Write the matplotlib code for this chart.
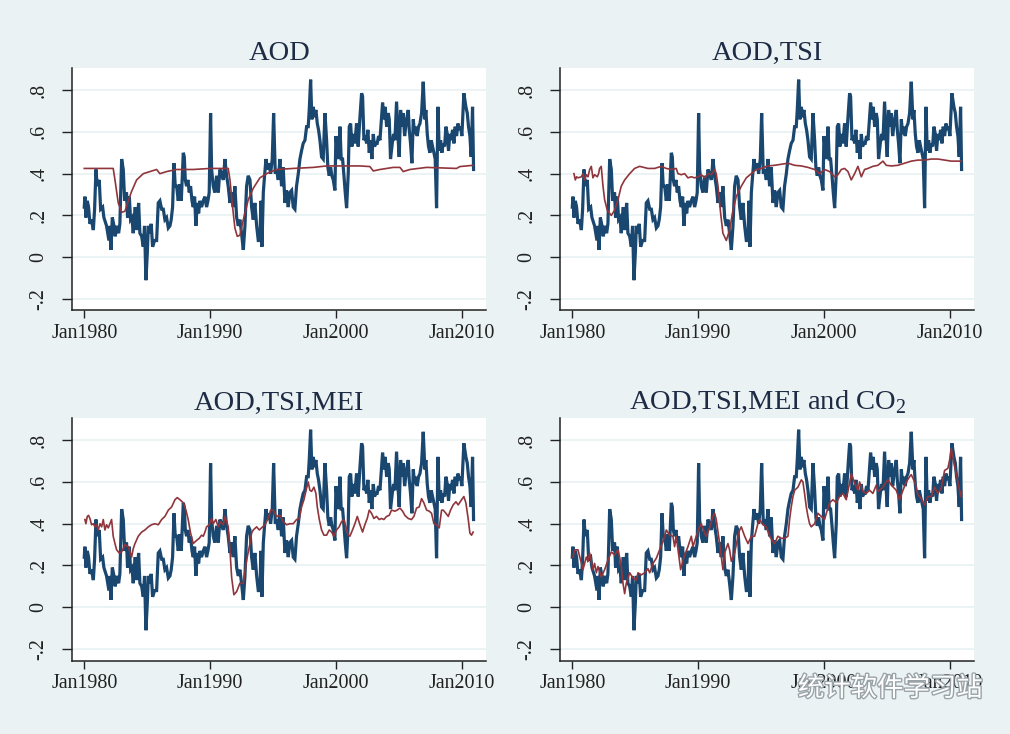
import matplotlib
matplotlib.use("Agg")
import matplotlib.pyplot as plt
import matplotlib.patheffects as pe

plt.rcParams["font.family"] = ["Liberation Serif", "DejaVu Serif"]
plt.rcParams["mathtext.fontset"] = "custom"
plt.rcParams["mathtext.rm"] = "Liberation Serif"

BG = "#eaf2f3"
NAVY = "#1a476f"
MAROON = "#90353b"

# observed AOD-related series (blue), same in all panels
obs_t = [1980.00, 1980.05, 1980.13, 1980.24, 1980.34, 1980.45, 1980.58, 1980.72, 1980.82, 1980.93,
         1981.03, 1981.19, 1981.30, 1981.46, 1981.56, 1981.77, 1981.96, 1982.04, 1982.12, 1982.23,
         1982.36, 1982.46, 1982.57, 1982.73, 1982.83, 1982.97, 1983.10, 1983.21, 1983.36, 1983.44,
         1983.58, 1983.68, 1983.79, 1983.89, 1984.05, 1984.16, 1984.32, 1984.42, 1984.56, 1984.69,
         1984.79, 1984.90, 1985.01, 1985.09, 1985.22, 1985.32, 1985.43, 1985.59, 1985.75, 1985.88,
         1986.01, 1986.15, 1986.28, 1986.41, 1986.54, 1986.68, 1986.81, 1986.91, 1987.02, 1987.13,
         1987.23, 1987.34, 1987.47, 1987.60, 1987.71, 1987.87, 1987.95, 1988.03, 1988.13, 1988.24,
         1988.34, 1988.45, 1988.56, 1988.66, 1988.77, 1988.87, 1988.98, 1989.09, 1989.19, 1989.32,
         1989.46, 1989.59, 1989.72, 1989.83, 1989.93, 1990.04, 1990.12, 1990.25, 1990.38, 1990.52,
         1990.65, 1990.78, 1990.91, 1991.05, 1991.18, 1991.31, 1991.44, 1991.58, 1991.71, 1991.84,
         1991.97, 1992.11, 1992.24, 1992.37, 1992.50, 1992.64, 1992.77, 1992.90, 1993.03, 1993.17,
         1993.30, 1993.43, 1993.56, 1993.70, 1993.83, 1993.96, 1994.04, 1994.12, 1994.23, 1994.33,
         1994.44, 1994.54, 1994.68, 1994.81, 1994.94, 1995.05, 1995.18, 1995.28, 1995.42, 1995.55,
         1995.68, 1995.81, 1995.95, 1996.08, 1996.21, 1996.34, 1996.48, 1996.61, 1996.74, 1996.87,
         1997.01, 1997.14, 1997.27, 1997.40, 1997.54, 1997.67, 1997.80, 1997.88, 1997.99, 1998.09,
         1998.20, 1998.30, 1998.41, 1998.52, 1998.62, 1998.73, 1998.86, 1998.99, 1999.13, 1999.26,
         1999.36, 1999.47, 1999.58, 1999.68, 1999.79, 1999.92, 2000.00, 2000.11, 2000.21, 2000.32,
         2000.42, 2000.53, 2000.64, 2000.74, 2000.85, 2000.98, 2001.06, 2001.17, 2001.27, 2001.38,
         2001.51, 2001.64, 2001.77, 2001.91, 2002.04, 2002.12, 2002.23, 2002.33, 2002.44, 2002.54,
         2002.65, 2002.75, 2002.86, 2002.97, 2003.07, 2003.18, 2003.28, 2003.39, 2003.50, 2003.63,
         2003.71, 2003.81, 2003.92, 2004.03, 2004.16, 2004.24, 2004.34, 2004.48, 2004.58, 2004.69,
         2004.82, 2004.95, 2005.03, 2005.14, 2005.25, 2005.35, 2005.46, 2005.62, 2005.75, 2005.83,
         2005.93, 2006.04, 2006.15, 2006.25, 2006.36, 2006.46, 2006.57, 2006.68, 2006.81, 2006.94,
         2007.07, 2007.15, 2007.26, 2007.36, 2007.47, 2007.58, 2007.68, 2007.79, 2007.89, 2008.00,
         2008.11, 2008.21, 2008.32, 2008.42, 2008.53, 2008.64, 2008.74, 2008.85, 2008.95, 2009.06,
         2009.17, 2009.27, 2009.38, 2009.48, 2009.59, 2009.70, 2009.80, 2009.91, 2010.01, 2010.17,
         2010.33, 2010.44, 2010.54, 2010.65, 2010.75, 2010.86, 2010.94]
obs_v = [0.24, 0.29, 0.19, 0.27, 0.24, 0.16, 0.18, 0.13, 0.23, 0.42,
         0.34, 0.37, 0.23, 0.24, 0.19, 0.15, 0.08, 0.15, 0.035, 0.19,
         0.15, 0.10, 0.15, 0.115, 0.16, 0.47, 0.42, 0.27, 0.31, 0.19,
         0.29, 0.18, 0.19, 0.115, 0.24, 0.13, 0.26, 0.115, 0.10, 0.05,
         0.15, -0.11, 0.02, 0.15, 0.115, 0.16, 0.05, 0.08, 0.08, 0.26,
         0.27, 0.23, 0.23, 0.18, 0.19, 0.14, 0.15, 0.18, 0.24, 0.45,
         0.34, 0.34, 0.27, 0.35, 0.27, 0.50, 0.48, 0.37, 0.34, 0.37,
         0.31, 0.34, 0.27, 0.24, 0.29, 0.15, 0.26, 0.21, 0.27, 0.24,
         0.27, 0.29, 0.24, 0.27, 0.31, 0.69, 0.42, 0.34, 0.31, 0.39,
         0.31, 0.42, 0.40, 0.37, 0.47, 0.39, 0.34, 0.26, 0.31, 0.24,
         0.34, 0.19, 0.15, 0.18, 0.115, 0.035, 0.15, 0.34, 0.39, 0.37,
         0.24, 0.18, 0.26, 0.15, 0.08, 0.08, 0.27, 0.05, 0.31, 0.39,
         0.47, 0.42, 0.45, 0.40, 0.47, 0.69, 0.40, 0.42, 0.37, 0.47,
         0.34, 0.43, 0.26, 0.32, 0.24, 0.31, 0.32, 0.24, 0.23, 0.34,
         0.40, 0.47, 0.51, 0.545, 0.56, 0.625, 0.625, 0.705, 0.85, 0.66,
         0.72, 0.67, 0.705, 0.64, 0.61, 0.56, 0.48, 0.47, 0.69, 0.56,
         0.43, 0.39, 0.43, 0.39, 0.37, 0.32, 0.58, 0.51, 0.47, 0.625,
         0.47, 0.47, 0.39, 0.31, 0.235, 0.40, 0.625, 0.64, 0.53, 0.59,
         0.545, 0.64, 0.53, 0.67, 0.785, 0.77, 0.56, 0.58, 0.545, 0.61,
         0.50, 0.56, 0.47, 0.59, 0.53, 0.545, 0.545, 0.58, 0.56, 0.67,
         0.74, 0.66, 0.72, 0.625, 0.69, 0.66, 0.47, 0.545, 0.59, 0.56,
         0.745, 0.56, 0.48, 0.705, 0.625, 0.69, 0.58, 0.66, 0.705, 0.61,
         0.545, 0.45, 0.66, 0.59, 0.625, 0.58, 0.625, 0.64, 0.69, 0.84,
         0.66, 0.705, 0.59, 0.53, 0.50, 0.56, 0.53, 0.50, 0.47, 0.235,
         0.72, 0.51, 0.56, 0.50, 0.545, 0.53, 0.625, 0.59, 0.51, 0.59,
         0.56, 0.61, 0.545, 0.625, 0.58, 0.64, 0.61, 0.625, 0.58, 0.785,
         0.72, 0.69, 0.625, 0.58, 0.48, 0.72, 0.42]

# fitted series (red), one per panel
fit1_t = [1980.00, 1982.30, 1982.44, 1982.70, 1982.97, 1983.23, 1983.50, 1983.76, 1984.16, 1984.69,
          1985.22, 1985.75, 1986.01, 1986.54, 1987.34, 1988.66, 1989.99, 1991.44, 1991.58, 1991.79,
          1991.97, 1992.16, 1992.37, 1992.64, 1993.03, 1993.43, 1993.96, 1994.49, 1995.28, 1996.61,
          1998.20, 1999.26, 2001.91, 2002.70, 2002.97, 2003.50, 2004.56, 2005.09, 2005.35, 2005.88,
          2007.21, 2009.59, 2009.85, 2010.91]
fit1_v = [0.425, 0.425, 0.37, 0.26, 0.215, 0.22, 0.27, 0.315, 0.37, 0.40,
          0.41, 0.42, 0.40, 0.41, 0.42, 0.42, 0.425, 0.425, 0.37, 0.24,
          0.14, 0.10, 0.105, 0.18, 0.275, 0.33, 0.38, 0.40, 0.42, 0.425,
          0.43, 0.437, 0.437, 0.434, 0.413, 0.42, 0.43, 0.43, 0.41, 0.42,
          0.43, 0.425, 0.434, 0.44]

fit2_t = [1980.13, 1980.24, 1980.34, 1980.45, 1980.72, 1980.85, 1980.98, 1981.11, 1981.25, 1981.38,
          1981.51, 1981.64, 1981.77, 1981.99, 1982.09, 1982.17, 1982.30, 1982.44, 1982.57, 1982.78,
          1983.10, 1983.36, 1983.63, 1983.89, 1984.16, 1984.56, 1984.95, 1985.35, 1986.01, 1986.54,
          1987.07, 1987.47, 1987.87, 1988.26, 1988.40, 1988.66, 1988.93, 1989.19, 1989.46, 1989.72,
          1989.99, 1990.25, 1990.52, 1990.78, 1991.05, 1991.31, 1991.44, 1991.58, 1991.79, 1991.97,
          1992.24, 1992.50, 1992.77, 1993.03, 1993.43, 1993.83, 1994.23, 1994.62, 1995.02, 1995.55,
          1996.08, 1997.14, 1997.67, 1998.20, 1998.73, 1999.26, 1999.66, 2000.05, 2000.45, 2000.85,
          2001.11, 2001.38, 2001.64, 2001.91, 2002.17, 2002.44, 2002.70, 2002.97, 2003.23, 2003.50,
          2003.89, 2004.29, 2004.69, 2004.95, 2005.35, 2005.88, 2006.41, 2006.94, 2007.47, 2008.00,
          2008.53, 2009.06, 2009.59, 2010.12, 2010.91]
fit2_v = [0.40, 0.37, 0.385, 0.38, 0.385, 0.40, 0.37, 0.395, 0.385, 0.42,
          0.435, 0.38, 0.395, 0.385, 0.40, 0.425, 0.435, 0.34, 0.275, 0.225,
          0.20, 0.225, 0.275, 0.34, 0.37, 0.40, 0.425, 0.435, 0.425, 0.425,
          0.435, 0.425, 0.42, 0.425, 0.40, 0.395, 0.40, 0.38, 0.385, 0.38,
          0.385, 0.395, 0.38, 0.40, 0.395, 0.42, 0.40, 0.34, 0.21, 0.115,
          0.08, 0.13, 0.225, 0.29, 0.34, 0.38, 0.40, 0.42, 0.425, 0.437,
          0.44, 0.45, 0.44, 0.437, 0.43, 0.42, 0.40, 0.42, 0.41, 0.385,
          0.395, 0.42, 0.425, 0.41, 0.37, 0.40, 0.435, 0.385, 0.42, 0.425,
          0.435, 0.44, 0.46, 0.44, 0.437, 0.44, 0.45, 0.46, 0.465, 0.465,
          0.47, 0.47, 0.465, 0.46, 0.46]

fit3_t = [1980.05, 1980.13, 1980.24, 1980.34, 1980.45, 1980.58, 1980.72, 1980.85, 1980.98, 1981.11,
          1981.25, 1981.38, 1981.51, 1981.64, 1981.77, 1981.91, 1982.04, 1982.17, 1982.30, 1982.44,
          1982.57, 1982.78, 1982.97, 1983.23, 1983.50, 1983.76, 1983.89, 1984.03, 1984.29, 1984.56,
          1984.82, 1985.09, 1985.35, 1985.62, 1985.88, 1986.15, 1986.41, 1986.68, 1986.94, 1987.21,
          1987.39, 1987.60, 1987.87, 1988.08, 1988.26, 1988.45, 1988.66, 1988.93, 1989.14, 1989.32,
          1989.46, 1989.59, 1989.72, 1989.93, 1990.12, 1990.25, 1990.46, 1990.65, 1990.83, 1991.05,
          1991.18, 1991.44, 1991.58, 1991.71, 1991.89, 1992.11, 1992.37, 1992.64, 1992.79, 1992.95,
          1993.17, 1993.30, 1993.43, 1993.70, 1993.91, 1994.09, 1994.36, 1994.62, 1994.81, 1995.02,
          1995.28, 1995.55, 1995.81, 1996.08, 1996.34, 1996.61, 1996.87, 1997.09, 1997.27, 1997.46,
          1997.67, 1997.80, 1997.93, 1998.07, 1998.25, 1998.41, 1998.52, 1998.68, 1998.86, 1999.05,
          1999.26, 1999.47, 1999.66, 1999.84, 2000.05, 2000.26, 2000.45, 2000.64, 2000.79, 2000.98,
          2001.11, 2001.32, 2001.51, 2001.70, 2001.91, 2002.12, 2002.30, 2002.49, 2002.65, 2002.83,
          2003.02, 2003.23, 2003.44, 2003.63, 2003.81, 2004.03, 2004.24, 2004.42, 2004.69, 2004.87,
          2005.09, 2005.30, 2005.48, 2005.75, 2006.01, 2006.20, 2006.41, 2006.62, 2006.81, 2006.99,
          2007.21, 2007.42, 2007.60, 2007.79, 2008.00, 2008.21, 2008.40, 2008.53, 2008.74, 2008.93,
          2009.11, 2009.32, 2009.54, 2009.72, 2009.99, 2010.17, 2010.33, 2010.52, 2010.65, 2010.78,
          2010.91]
fit3_v = [0.42, 0.40, 0.435, 0.44, 0.425, 0.395, 0.40, 0.385, 0.395, 0.37,
          0.40, 0.385, 0.42, 0.37, 0.395, 0.38, 0.40, 0.42, 0.34, 0.305,
          0.275, 0.26, 0.265, 0.30, 0.29, 0.24, 0.28, 0.305, 0.34, 0.36,
          0.37, 0.385, 0.395, 0.40, 0.395, 0.42, 0.435, 0.465, 0.48, 0.515,
          0.525, 0.515, 0.50, 0.465, 0.42, 0.355, 0.305, 0.32, 0.33, 0.345,
          0.34, 0.36, 0.385, 0.395, 0.425, 0.40, 0.42, 0.385, 0.41, 0.395,
          0.435, 0.385, 0.275, 0.145, 0.06, 0.075, 0.115, 0.115, 0.18, 0.24,
          0.305, 0.355, 0.37, 0.385, 0.37, 0.38, 0.395, 0.425, 0.465, 0.465,
          0.435, 0.44, 0.41, 0.395, 0.40, 0.40, 0.42, 0.425, 0.48, 0.515,
          0.57, 0.60, 0.56, 0.555, 0.575, 0.545, 0.48, 0.42, 0.37, 0.345,
          0.345, 0.37, 0.36, 0.34, 0.37, 0.385, 0.41, 0.42, 0.385, 0.345,
          0.34, 0.37, 0.40, 0.435, 0.395, 0.36, 0.395, 0.425, 0.465, 0.45,
          0.425, 0.435, 0.42, 0.425, 0.42, 0.435, 0.44, 0.465, 0.46, 0.465,
          0.475, 0.46, 0.44, 0.425, 0.42, 0.435, 0.475, 0.48, 0.52, 0.50,
          0.465, 0.46, 0.45, 0.40, 0.395, 0.38, 0.465, 0.465, 0.45, 0.435,
          0.465, 0.49, 0.505, 0.49, 0.515, 0.53, 0.50, 0.42, 0.355, 0.345,
          0.36]

fit4_t = [1980.05, 1980.19, 1980.45, 1980.72, 1980.85, 1981.11, 1981.25, 1981.38, 1981.64, 1981.77,
          1981.91, 1982.04, 1982.30, 1982.57, 1982.83, 1983.10, 1983.36, 1983.63, 1983.76, 1983.89,
          1984.03, 1984.16, 1984.29, 1984.56, 1984.82, 1985.09, 1985.22, 1985.48, 1985.75, 1986.01,
          1986.15, 1986.41, 1986.68, 1986.94, 1987.21, 1987.34, 1987.47, 1987.73, 1988.00, 1988.13,
          1988.26, 1988.40, 1988.61, 1988.87, 1989.19, 1989.46, 1989.59, 1989.85, 1990.12, 1990.25,
          1990.52, 1990.65, 1990.91, 1991.18, 1991.31, 1991.44, 1991.71, 1991.97, 1992.11, 1992.37,
          1992.50, 1992.64, 1992.90, 1993.17, 1993.30, 1993.43, 1993.70, 1993.96, 1994.23, 1994.49,
          1994.75, 1994.89, 1995.15, 1995.42, 1995.68, 1995.95, 1996.08, 1996.34, 1996.61, 1996.87,
          1997.14, 1997.27, 1997.40, 1997.54, 1997.67, 1997.93, 1998.20, 1998.33, 1998.46, 1998.60,
          1998.73, 1998.86, 1998.99, 1999.26, 1999.52, 1999.79, 2000.05, 2000.19, 2000.45, 2000.72,
          2000.98, 2001.24, 2001.51, 2001.77, 2002.04, 2002.17, 2002.44, 2002.70, 2002.83, 2003.10,
          2003.36, 2003.63, 2003.89, 2004.16, 2004.29, 2004.69, 2004.95, 2005.09, 2005.35, 2005.75,
          2006.01, 2006.28, 2006.54, 2006.81, 2006.94, 2007.21, 2007.47, 2007.74, 2008.00, 2008.26,
          2008.53, 2008.79, 2009.06, 2009.32, 2009.59, 2009.85, 2009.99, 2010.12, 2010.38, 2010.65,
          2010.86, 2010.94]
fit4_v = [0.24, 0.275, 0.275, 0.21, 0.18, 0.24, 0.22, 0.26, 0.18, 0.21,
          0.165, 0.195, 0.145, 0.18, 0.225, 0.265, 0.25, 0.275, 0.24, 0.195,
          0.115, 0.065, 0.115, 0.165, 0.14, 0.13, 0.165, 0.155, 0.165, 0.185,
          0.165, 0.21, 0.235, 0.275, 0.315, 0.34, 0.37, 0.345, 0.34, 0.29,
          0.34, 0.275, 0.18, 0.24, 0.29, 0.34, 0.29, 0.34, 0.385, 0.40,
          0.355, 0.34, 0.38, 0.435, 0.45, 0.42, 0.305, 0.18, 0.26, 0.305,
          0.275, 0.22, 0.26, 0.34, 0.37, 0.385, 0.34, 0.305, 0.34, 0.34,
          0.40, 0.42, 0.395, 0.385, 0.34, 0.315, 0.305, 0.34, 0.33, 0.33,
          0.34, 0.42, 0.48, 0.53, 0.56, 0.575, 0.61, 0.60, 0.545, 0.48,
          0.435, 0.40, 0.385, 0.40, 0.45, 0.435, 0.42, 0.45, 0.50, 0.515,
          0.50, 0.53, 0.545, 0.515, 0.595, 0.64, 0.595, 0.56, 0.60, 0.555,
          0.545, 0.56, 0.545, 0.585, 0.555, 0.575, 0.60, 0.61, 0.585, 0.56,
          0.515, 0.56, 0.60, 0.625, 0.635, 0.60, 0.54, 0.52, 0.49, 0.53,
          0.53, 0.575, 0.545, 0.57, 0.655, 0.665, 0.705, 0.76, 0.675, 0.60,
          0.53, 0.555]

titles = ["AOD", "AOD,TSI", "AOD,TSI,MEI", r"AOD,TSI,MEI and CO$_2$"]
fits = [(fit1_t, fit1_v), (fit2_t, fit2_v), (fit3_t, fit3_v), (fit4_t, fit4_v)]
yticks = [-0.2, 0, 0.2, 0.4, 0.6, 0.8]
ytick_labels = ["-.2", "0", ".2", ".4", ".6", ".8"]
xticks = [1980, 1990, 2000, 2010]
xtick_labels = ["Jan1980", "Jan1990", "Jan2000", "Jan2010"]

fig = plt.figure(figsize=(10.1, 7.34), dpi=100, facecolor=BG)

lefts = [0.0716, 0.5548]
bottoms = [0.577, 0.1001]
w, h = 0.4096, 0.3304

for i, (title, (ft, fv)) in enumerate(zip(titles, fits)):
    ax = fig.add_axes([lefts[i % 2], bottoms[i // 2], w, h])
    ax.set_facecolor("white")
    ax.plot(obs_t, obs_v, color=NAVY, lw=2.3, solid_joinstyle="miter", zorder=3)
    ax.plot(ft, fv, color=MAROON, lw=1.2, zorder=4)

    ax.set_xlim(1979.05, 2011.93)
    ax.set_ylim(-0.255, 0.906)
    ax.set_xticks(xticks)
    ax.set_xticklabels(xtick_labels)
    ax.set_yticks(yticks)
    ax.set_yticklabels(ytick_labels, rotation=90, va="center")
    ax.tick_params(axis="both", labelsize=14.4, colors="#222222", width=1.0)
    ax.tick_params(axis="x", length=6, pad=4)
    ax.tick_params(axis="y", length=7, pad=10)
    ax.grid(axis="y", color="#eaf2f3", lw=1.3, zorder=0)

    for side in ["top", "right"]:
        ax.spines[side].set_visible(False)
    for side in ["left", "bottom"]:
        ax.spines[side].set_color("#222222")
        ax.spines[side].set_linewidth(1.1)

    ax.set_title(title, fontsize=20.5, color="#1e2b45", pad=6)

# watermark in the lower right corner
fig.text(0.79, 0.062, "统计软件学习站", fontsize=19, color="white",
         family=["Noto Sans CJK SC", "DejaVu Sans"], va="center",
         path_effects=[pe.withStroke(linewidth=2, foreground="#9aa3a8")])

fig.savefig("out.png", dpi=100, facecolor=BG)
